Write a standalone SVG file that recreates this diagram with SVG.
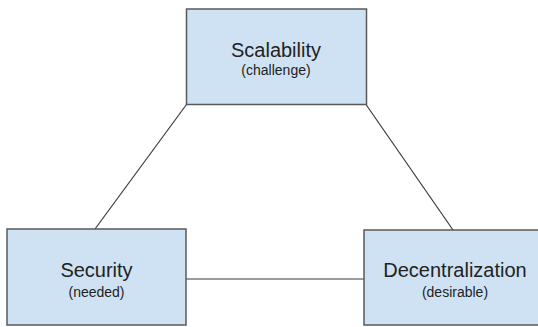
<svg xmlns="http://www.w3.org/2000/svg" width="538" height="327" viewBox="0 0 538 327">
  <style>
    .box { fill: #cfe2f3; stroke: #595959; stroke-width: 1.5; }
    .edge { stroke: #3a3a3a; stroke-width: 1.2; fill: none; }
    .title { font-family: "Liberation Sans", Arial, sans-serif; font-size: 20px; fill: #222; text-anchor: middle; }
    .sub { font-family: "Liberation Sans", Arial, sans-serif; font-size: 14px; fill: #222; text-anchor: middle; }
  </style>
  <rect width="538" height="327" fill="#ffffff"/>
  <g id="connectors">
    <line class="edge" x1="186.5" y1="104.5" x2="95" y2="229"/>
    <line class="edge" x1="366" y1="104.5" x2="453" y2="230"/>
    <line class="edge" x1="186" y1="279" x2="364" y2="279"/>
  </g>
  <g id="scalability">
    <rect class="box" x="186.5" y="9" width="180" height="95.5"/>
    <text class="title" x="276" y="57">Scalability</text>
    <text class="sub" x="276" y="75">(challenge)</text>
  </g>
  <g id="security">
    <rect class="box" x="7" y="229" width="179" height="96"/>
    <text class="title" x="96.5" y="277">Security</text>
    <text class="sub" x="96.5" y="297">(needed)</text>
  </g>
  <g id="decentralization">
    <rect class="box" x="364" y="230" width="182" height="95"/>
    <text class="title" x="455" y="277">Decentralization</text>
    <text class="sub" x="455" y="297">(desirable)</text>
  </g>
</svg>
